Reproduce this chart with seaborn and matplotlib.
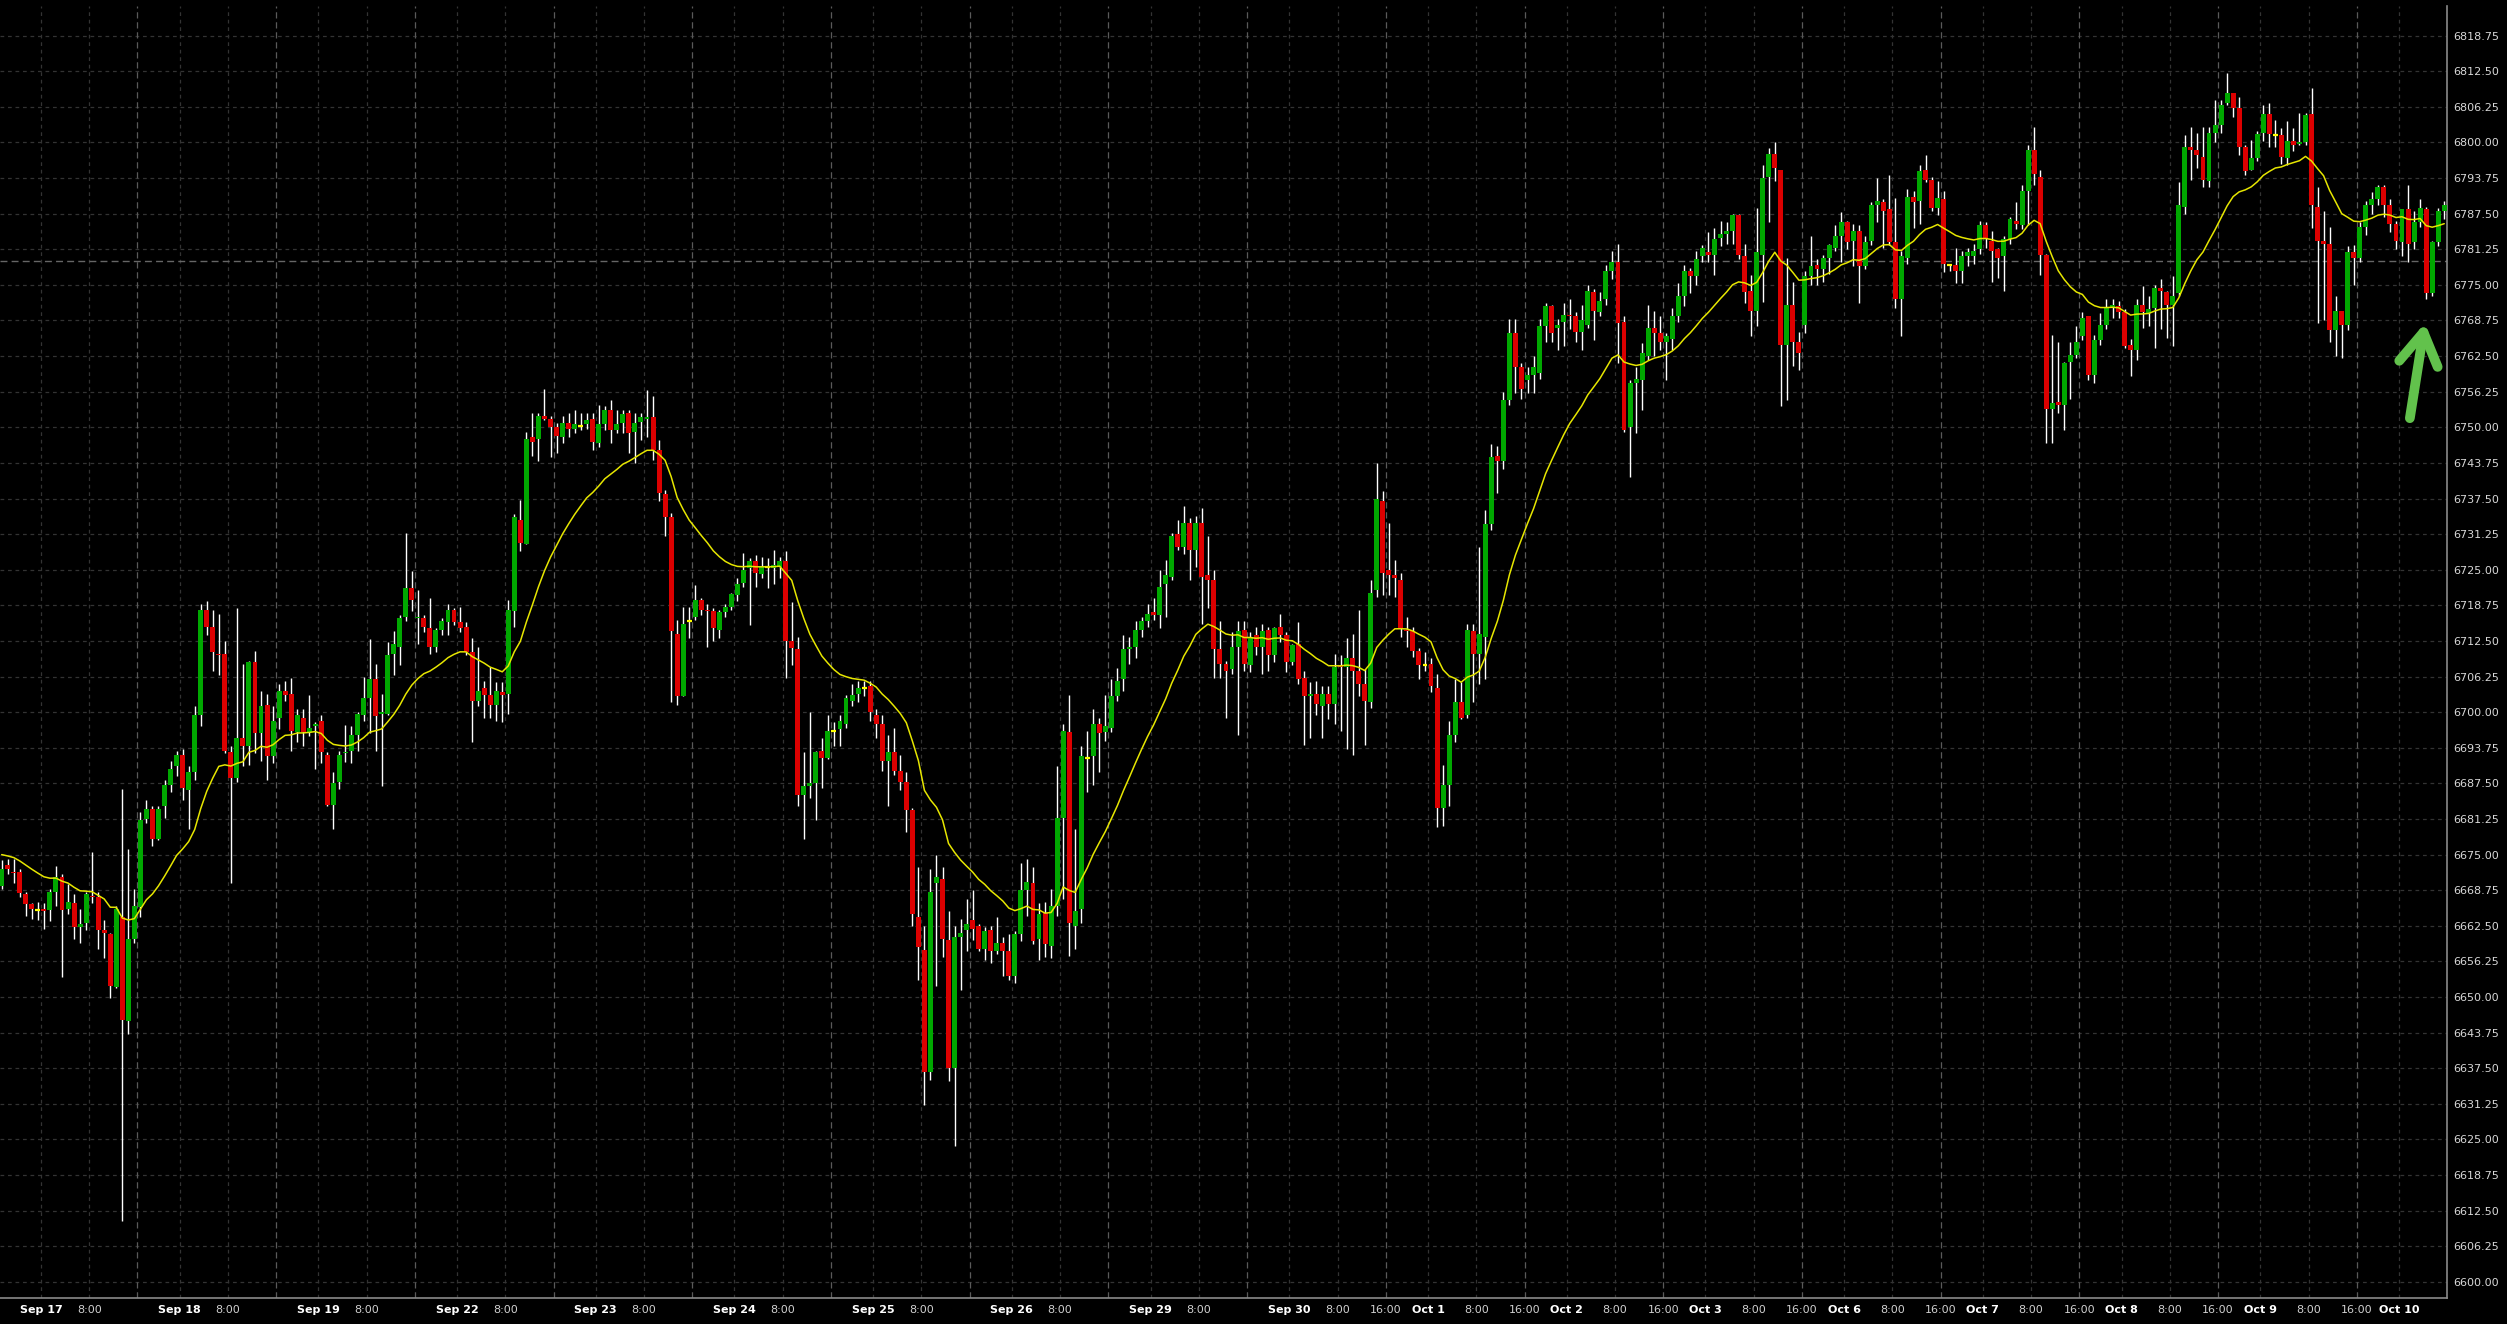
import numpy as np
import pandas as pd
import matplotlib
matplotlib.use("Agg")
import matplotlib.pyplot as plt
from matplotlib.patches import FancyArrowPatch, ArrowStyle
import seaborn as sns

# Hourly candles, Sep 17 - Oct 10
opens = [
    6669.5, 6673.25, 6672.0, 6672.0, 6668.0, 6666.25, 6665.25, 6665.5, 6665.25, 6668.5,
    6671.0, 6665.5, 6666.5, 6662.25, 6663.0, 6667.75, 6667.5, 6661.75, 6661.0, 6651.75,
    6664.0, 6645.75, 6660.25, 6665.75, 6681.25, 6683.0, 6677.75, 6683.5, 6687.25, 6690.5,
    6692.5, 6686.25, 6689.5, 6699.5, 6718.0, 6715.0, 6710.25, 6710.25, 6693.0, 6688.5,
    6695.5, 6694.0, 6708.75, 6696.25, 6701.25, 6692.25, 6699.0, 6703.75, 6703.25, 6696.5,
    6699.0, 6696.5, 6697.5, 6698.5, 6692.5, 6683.75, 6687.75, 6692.75, 6693.25, 6696.0,
    6699.5, 6702.5, 6705.75, 6699.75, 6699.75, 6710.25, 6711.5, 6716.75, 6721.75, 6716.5,
    6716.5, 6714.75, 6711.5, 6714.5, 6715.75, 6718.0, 6715.75, 6715.0, 6710.5, 6702.0,
    6704.25, 6703.0, 6701.25, 6703.5, 6703.25, 6717.75, 6733.75, 6729.5, 6748.25, 6748.0,
    6752.0, 6751.5, 6750.0, 6748.25, 6750.75, 6749.75, 6750.25, 6750.5, 6751.5, 6747.25,
    6750.5, 6753.0, 6749.5, 6750.75, 6752.5, 6749.25, 6751.0, 6751.5, 6751.75, 6746.0,
    6738.25, 6734.25, 6713.75, 6702.75, 6716.0, 6716.75, 6719.75, 6718.0, 6717.75, 6714.5,
    6717.5, 6718.5, 6720.5, 6722.75, 6725.25, 6726.5, 6724.25, 6725.5, 6725.25, 6725.5,
    6726.5, 6712.5, 6711.0, 6685.5, 6687.0, 6687.5, 6693.25, 6692.0, 6696.75, 6697.0,
    6698.0, 6702.0, 6703.25, 6704.25, 6704.5, 6699.5, 6698.0, 6691.5, 6693.0, 6689.75,
    6687.75, 6682.75, 6664.0, 6658.25, 6636.75, 6670.0, 6670.75, 6660.0, 6637.5, 6660.5,
    6661.75, 6663.5, 6662.5, 6658.5, 6661.75, 6658.0, 6659.5, 6658.0, 6653.75, 6661.0,
    6668.75, 6670.0, 6660.25, 6664.75, 6659.0, 6666.0, 6681.5, 6696.5, 6662.5, 6665.5,
    6692.0, 6692.25, 6698.0, 6696.5, 6697.25, 6702.75, 6705.75, 6711.0, 6711.5, 6714.5,
    6716.0, 6717.5, 6717.0, 6722.5, 6723.75, 6731.25, 6729.0, 6733.25, 6728.5, 6733.25,
    6724.0, 6723.25, 6711.0, 6708.5, 6707.5, 6711.5, 6714.5, 6708.25, 6713.5, 6711.5,
    6714.5, 6710.0, 6715.0, 6713.5, 6708.75, 6712.0, 6706.0, 6702.75, 6703.25, 6701.0,
    6703.25, 6701.5, 6708.25, 6708.0, 6709.5, 6707.25, 6705.0, 6701.75, 6721.5, 6737.0,
    6725.0, 6724.0, 6723.25, 6714.5, 6714.25, 6710.75, 6708.25, 6708.5, 6704.25, 6683.25,
    6687.25, 6696.0, 6701.75, 6699.5, 6714.25, 6710.25, 6713.25, 6733.0, 6745.0, 6744.0,
    6754.75, 6766.5, 6760.5, 6758.25, 6759.25, 6759.5, 6767.75, 6771.25, 6767.5, 6768.5,
    6769.75, 6769.5, 6766.75, 6768.0, 6773.75, 6770.25, 6772.5, 6777.5, 6779.0, 6768.5,
    6750.0, 6757.75, 6758.25, 6762.5, 6767.5, 6766.5, 6765.0, 6765.5, 6769.5, 6773.0,
    6777.5, 6776.5, 6780.0, 6780.75, 6780.25, 6783.25, 6784.0, 6784.5, 6787.25, 6780.0,
    6774.0, 6770.5, 6780.25, 6794.0, 6798.0, 6795.25, 6764.5, 6771.5, 6765.0, 6768.0,
    6776.5, 6778.5, 6777.75, 6779.75, 6781.5, 6783.5, 6786.0, 6782.75, 6784.5, 6778.25,
    6782.75, 6789.0, 6789.5, 6788.25, 6782.5, 6772.5, 6779.75, 6790.5, 6789.75, 6795.25,
    6793.5, 6788.5, 6790.0, 6778.5, 6778.5, 6777.5, 6780.0, 6780.0, 6781.25, 6785.5,
    6782.75, 6781.25, 6780.0, 6783.0, 6786.25, 6785.5, 6791.5, 6798.75, 6794.0, 6780.25,
    6753.25, 6754.5, 6754.0, 6761.5, 6762.75, 6766.0, 6769.5, 6759.25, 6765.25, 6768.0,
    6771.0, 6771.25, 6770.25, 6764.5, 6763.5, 6771.5, 6770.0, 6771.0, 6774.5, 6773.75,
    6771.5, 6773.5, 6788.75, 6799.25, 6798.75, 6797.5, 6793.25, 6801.75, 6803.0, 6807.0,
    6808.75, 6806.0, 6799.25, 6795.25, 6797.25, 6801.75, 6805.0, 6801.25, 6801.25, 6797.25,
    6800.25, 6799.75, 6800.0, 6805.0, 6788.75, 6782.75, 6782.25, 6767.0, 6770.5, 6768.0,
    6780.75, 6779.75, 6785.25, 6789.0, 6790.0, 6792.25, 6789.0, 6785.75, 6782.5, 6788.25,
    6782.5, 6786.0, 6788.25, 6773.5, 6782.5, 6788.0,
]
highs = [
    6674.0, 6674.25, 6674.25, 6672.5, 6668.5, 6666.5, 6666.75, 6666.5, 6669.0, 6673.0,
    6671.5, 6669.75, 6668.0, 6665.5, 6668.5, 6675.5, 6668.5, 6663.5, 6661.25, 6666.0,
    6686.5, 6676.0, 6669.0, 6682.5, 6684.5, 6683.5, 6683.5, 6688.0, 6691.5, 6693.25,
    6693.5, 6690.5, 6701.0, 6719.0, 6719.5, 6718.0, 6717.25, 6712.5, 6694.0, 6718.25,
    6708.5, 6709.0, 6710.75, 6703.75, 6703.25, 6701.0, 6705.0, 6705.5, 6706.0, 6700.5,
    6700.5, 6703.0, 6698.25, 6699.5, 6693.0, 6689.5, 6693.25, 6697.75, 6697.5, 6700.0,
    6706.25, 6712.75, 6708.5, 6703.25, 6712.25, 6714.25, 6717.0, 6731.5, 6724.75, 6721.5,
    6717.0, 6720.0, 6714.75, 6716.5, 6719.0, 6718.25, 6718.5, 6715.75, 6713.0, 6711.5,
    6705.5, 6708.0, 6705.25, 6705.25, 6719.75, 6734.75, 6737.25, 6749.25, 6752.5, 6752.5,
    6756.75, 6752.0, 6750.75, 6752.0, 6752.5, 6753.0, 6752.5, 6752.5, 6752.5, 6754.0,
    6753.75, 6754.75, 6753.0, 6753.0, 6753.0, 6752.5, 6752.5, 6756.5, 6755.5, 6747.75,
    6739.0, 6735.0, 6716.25, 6718.5, 6718.5, 6722.25, 6720.0, 6719.0, 6718.25, 6718.0,
    6719.0, 6721.0, 6723.5, 6728.0, 6727.0, 6727.5, 6727.25, 6727.0, 6728.5, 6727.25,
    6728.25, 6719.25, 6713.25, 6693.0, 6700.0, 6693.25, 6695.5, 6699.5, 6698.25, 6699.5,
    6703.0, 6705.0, 6705.5, 6705.5, 6705.5, 6700.5, 6699.5, 6696.0, 6697.25, 6692.5,
    6689.5, 6683.25, 6672.75, 6662.5, 6672.5, 6675.0, 6672.75, 6665.0, 6662.5, 6663.75,
    6667.25, 6668.75, 6662.75, 6662.25, 6662.5, 6664.0, 6660.5, 6661.0, 6661.5, 6673.5,
    6674.25, 6672.75, 6666.5, 6666.75, 6669.0, 6690.5, 6698.0, 6703.0, 6679.5, 6694.0,
    6696.75, 6700.5, 6699.0, 6703.0, 6705.75, 6707.75, 6713.5, 6713.25, 6716.0, 6716.75,
    6719.0, 6720.0, 6725.0, 6726.75, 6731.5, 6733.75, 6736.25, 6734.0, 6734.5, 6735.75,
    6731.0, 6725.0, 6716.0, 6709.0, 6714.0, 6716.0, 6716.0, 6714.0, 6715.0, 6715.5,
    6715.0, 6715.0, 6717.25, 6714.0, 6712.0, 6715.75, 6707.25, 6705.25, 6705.5, 6704.5,
    6704.5, 6710.25, 6710.0, 6713.0, 6713.75, 6718.0, 6707.5, 6723.25, 6743.75, 6738.75,
    6733.25, 6726.75, 6724.5, 6716.75, 6715.0, 6711.25, 6710.5, 6709.5, 6706.75, 6690.75,
    6698.5, 6705.75, 6705.25, 6715.5, 6715.5, 6729.0, 6735.5, 6747.0, 6746.75, 6756.25,
    6769.0, 6769.0, 6761.25, 6760.5, 6762.5, 6769.0, 6771.75, 6771.5, 6769.0, 6771.75,
    6772.5, 6770.25, 6771.5, 6775.0, 6774.25, 6773.75, 6778.5, 6781.0, 6782.25, 6769.5,
    6758.25, 6760.5, 6764.75, 6771.5, 6770.5, 6769.5, 6766.5, 6771.0, 6775.25, 6778.5,
    6778.0, 6781.0, 6782.0, 6784.25, 6785.0, 6786.25, 6786.0, 6787.5, 6787.5, 6782.25,
    6776.75, 6788.5, 6796.0, 6799.0, 6800.0, 6795.25, 6779.75, 6775.5, 6766.75, 6777.5,
    6783.5, 6779.5, 6780.25, 6782.25, 6785.5, 6787.75, 6786.25, 6785.75, 6785.5, 6783.5,
    6789.5, 6793.75, 6790.0, 6794.25, 6790.25, 6781.0, 6791.75, 6791.5, 6796.0, 6797.75,
    6794.0, 6793.25, 6791.5, 6778.75, 6781.5, 6781.0, 6781.5, 6782.25, 6786.25, 6786.0,
    6784.5, 6781.5, 6783.5, 6787.0, 6789.5, 6792.5, 6799.5, 6802.75, 6795.25, 6780.5,
    6766.25, 6765.0, 6761.5, 6765.0, 6767.75, 6770.25, 6769.5, 6766.25, 6770.0, 6772.5,
    6772.5, 6772.25, 6770.75, 6765.5, 6772.5, 6774.75, 6773.0, 6775.0, 6776.0, 6774.0,
    6776.5, 6793.0, 6801.25, 6802.75, 6801.75, 6802.75, 6802.75, 6807.5, 6807.5, 6812.25,
    6808.75, 6808.0, 6799.5, 6800.5, 6802.0, 6806.5, 6807.0, 6804.0, 6802.5, 6803.75,
    6802.5, 6805.25, 6805.25, 6809.5, 6792.25, 6788.0, 6785.25, 6773.0, 6770.5, 6781.75,
    6782.0, 6786.0, 6789.75, 6791.25, 6792.5, 6792.5, 6790.0, 6786.25, 6788.25, 6792.5,
    6788.0, 6790.0, 6788.75, 6782.75, 6788.5, 6789.75,
]
lows = [
    6669.0, 6671.5, 6670.0, 6667.5, 6664.25, 6663.75, 6663.5, 6662.0, 6663.25, 6666.0,
    6653.5, 6664.5, 6660.25, 6659.5, 6661.75, 6666.5, 6658.5, 6656.75, 6649.75, 6651.5,
    6610.75, 6643.5, 6659.5, 6664.0, 6680.5, 6676.5, 6677.5, 6681.5, 6686.0, 6688.75,
    6684.5, 6679.5, 6688.0, 6697.5, 6713.5, 6707.25, 6706.5, 6692.75, 6670.0, 6687.75,
    6690.5, 6690.75, 6692.75, 6691.5, 6688.0, 6691.0, 6697.0, 6702.0, 6693.25, 6694.75,
    6694.0, 6695.75, 6690.0, 6691.0, 6683.5, 6679.5, 6686.5, 6691.25, 6691.0, 6693.25,
    6698.5, 6696.25, 6693.25, 6687.0, 6699.5, 6706.5, 6708.25, 6716.0, 6717.75, 6712.0,
    6714.0, 6710.25, 6710.5, 6713.5, 6713.5, 6715.25, 6714.0, 6710.0, 6694.75, 6701.0,
    6699.0, 6699.0, 6698.5, 6698.25, 6699.75, 6715.0, 6728.25, 6729.5, 6745.0, 6744.0,
    6751.25, 6744.75, 6745.5, 6747.25, 6748.25, 6749.0, 6749.5, 6749.75, 6746.0, 6746.5,
    6749.5, 6747.25, 6749.0, 6749.0, 6745.5, 6743.75, 6747.75, 6748.25, 6744.25, 6737.0,
    6731.0, 6701.75, 6701.25, 6702.75, 6713.0, 6716.25, 6717.0, 6711.5, 6712.5, 6713.0,
    6716.75, 6718.0, 6719.5, 6722.0, 6715.25, 6722.0, 6723.5, 6721.75, 6722.5, 6723.5,
    6706.0, 6708.25, 6683.5, 6677.75, 6685.0, 6681.0, 6686.75, 6691.75, 6694.0, 6694.0,
    6697.25, 6701.0, 6701.75, 6702.75, 6698.5, 6695.5, 6689.75, 6683.5, 6689.0, 6686.25,
    6679.0, 6662.5, 6653.0, 6631.0, 6635.5, 6652.0, 6657.0, 6635.25, 6623.75, 6651.25,
    6658.0, 6660.0, 6658.0, 6656.5, 6656.0, 6657.5, 6653.75, 6653.0, 6652.5, 6659.75,
    6664.25, 6659.25, 6656.5, 6657.0, 6656.75, 6664.25, 6667.25, 6657.25, 6658.5, 6663.0,
    6686.0, 6687.25, 6689.5, 6695.0, 6696.5, 6702.0, 6703.75, 6708.5, 6709.5, 6713.25,
    6715.0, 6716.25, 6714.75, 6716.75, 6723.25, 6728.5, 6727.75, 6723.25, 6725.5, 6715.5,
    6718.25, 6706.0, 6706.0, 6699.0, 6706.75, 6696.0, 6707.25, 6707.0, 6710.0, 6706.75,
    6707.25, 6708.75, 6712.25, 6707.0, 6708.25, 6705.0, 6694.25, 6695.5, 6699.5, 6695.5,
    6698.75, 6698.0, 6696.75, 6693.5, 6692.5, 6702.75, 6694.25, 6700.75, 6720.25, 6720.5,
    6720.5, 6720.25, 6713.25, 6711.5, 6709.75, 6705.75, 6707.25, 6703.5, 6679.75, 6680.0,
    6683.5, 6694.75, 6698.75, 6699.0, 6701.75, 6705.0, 6705.75, 6732.0, 6738.5, 6742.75,
    6754.0, 6756.0, 6755.0, 6756.0, 6756.0, 6758.5, 6765.0, 6765.0, 6763.5, 6764.25,
    6767.25, 6765.0, 6763.5, 6767.5, 6765.25, 6769.5, 6771.5, 6776.0, 6761.25, 6749.25,
    6741.25, 6749.0, 6753.0, 6761.75, 6762.5, 6763.5, 6758.25, 6763.5, 6768.5, 6771.25,
    6773.5, 6775.0, 6779.0, 6779.0, 6776.75, 6781.75, 6782.25, 6782.25, 6779.5, 6771.75,
    6766.0, 6767.75, 6772.0, 6786.0, 6793.25, 6753.75, 6754.75, 6760.75, 6760.0, 6766.5,
    6775.0, 6775.0, 6775.5, 6777.0, 6781.0, 6779.0, 6781.25, 6778.25, 6771.75, 6777.75,
    6782.0, 6786.0, 6781.5, 6782.0, 6771.0, 6766.0, 6778.75, 6785.0, 6785.75, 6793.0,
    6788.0, 6787.25, 6777.25, 6777.5, 6775.25, 6775.25, 6778.25, 6778.75, 6780.5, 6781.5,
    6775.5, 6776.25, 6774.0, 6782.25, 6784.75, 6784.75, 6785.5, 6792.5, 6776.75, 6747.25,
    6747.25, 6752.5, 6749.5, 6755.0, 6762.25, 6765.25, 6758.25, 6757.75, 6764.5, 6767.25,
    6769.25, 6769.25, 6764.0, 6759.0, 6761.75, 6767.5, 6767.75, 6764.0, 6767.25, 6765.75,
    6764.25, 6773.0, 6787.5, 6793.5, 6795.5, 6792.25, 6792.25, 6800.0, 6801.75, 6806.5,
    6804.5, 6797.75, 6794.25, 6795.25, 6796.75, 6800.25, 6799.25, 6799.25, 6796.25, 6796.0,
    6798.5, 6799.5, 6799.5, 6785.0, 6768.25, 6768.75, 6765.0, 6762.5, 6762.25, 6767.0,
    6775.0, 6779.0, 6783.75, 6787.5, 6789.0, 6787.0, 6784.25, 6781.25, 6780.0, 6779.0,
    6781.25, 6785.25, 6772.5, 6773.0, 6781.75, 6786.5,
]
closes = [
    6672.5, 6672.5, 6671.75, 6668.25, 6666.25, 6665.5, 6665.25, 6665.0, 6668.5, 6671.0,
    6665.25, 6666.75, 6662.25, 6662.75, 6668.0, 6667.5, 6661.75, 6661.25, 6652.0, 6665.5,
    6646.0, 6660.25, 6666.0, 6681.0, 6683.0, 6677.75, 6683.0, 6687.25, 6690.0, 6692.5,
    6686.75, 6689.5, 6699.5, 6718.0, 6715.0, 6710.5, 6710.0, 6693.25, 6688.5, 6695.5,
    6694.0, 6708.75, 6696.25, 6701.0, 6692.25, 6698.5, 6703.75, 6703.0, 6696.75, 6699.5,
    6696.5, 6697.25, 6698.0, 6693.0, 6683.75, 6687.5, 6692.5, 6693.0, 6696.0, 6699.75,
    6702.5, 6705.75, 6699.25, 6700.0, 6710.0, 6712.0, 6716.5, 6721.75, 6719.75, 6716.75,
    6715.0, 6711.5, 6714.5, 6716.0, 6718.0, 6715.75, 6714.75, 6710.5, 6702.0, 6703.75,
    6703.0, 6701.25, 6703.75, 6703.0, 6718.0, 6734.25, 6729.75, 6748.0, 6747.5, 6752.0,
    6751.5, 6750.0, 6748.5, 6750.75, 6749.75, 6750.5, 6750.25, 6751.25, 6747.5, 6750.5,
    6753.0, 6749.5, 6750.5, 6752.25, 6749.0, 6750.75, 6751.75, 6751.75, 6746.0, 6738.5,
    6734.25, 6714.25, 6702.75, 6715.5, 6716.0, 6719.75, 6718.0, 6717.75, 6714.75, 6717.5,
    6718.5, 6720.75, 6722.5, 6725.0, 6726.5, 6724.5, 6725.5, 6725.5, 6725.75, 6726.5,
    6712.5, 6711.25, 6685.5, 6687.0, 6687.5, 6693.0, 6692.0, 6696.75, 6696.75, 6698.5,
    6702.5, 6703.0, 6704.25, 6704.25, 6700.0, 6698.0, 6691.5, 6693.0, 6689.75, 6687.75,
    6682.75, 6664.5, 6658.75, 6636.75, 6668.5, 6671.0, 6660.25, 6637.5, 6660.5, 6661.25,
    6662.75, 6662.0, 6658.5, 6661.5, 6658.0, 6659.5, 6658.0, 6653.75, 6661.0, 6668.75,
    6670.25, 6659.75, 6664.5, 6659.25, 6666.0, 6681.5, 6696.75, 6663.0, 6665.0, 6692.25,
    6692.0, 6698.0, 6696.25, 6697.5, 6702.75, 6705.5, 6711.0, 6711.5, 6714.5, 6716.0,
    6717.25, 6717.0, 6722.0, 6724.0, 6731.0, 6729.0, 6733.25, 6728.5, 6733.25, 6723.75,
    6723.25, 6711.0, 6708.5, 6707.25, 6711.5, 6714.25, 6708.5, 6713.25, 6711.5, 6714.25,
    6710.0, 6714.75, 6713.5, 6708.75, 6711.75, 6705.75, 6702.75, 6703.25, 6701.5, 6703.25,
    6701.5, 6708.0, 6708.0, 6709.5, 6707.25, 6705.0, 6702.0, 6721.0, 6737.5, 6724.5,
    6724.0, 6723.5, 6714.75, 6714.25, 6710.75, 6708.25, 6708.25, 6704.5, 6683.25, 6687.25,
    6696.0, 6701.75, 6699.0, 6714.5, 6710.25, 6713.75, 6733.0, 6744.75, 6744.0, 6754.75,
    6766.5, 6760.5, 6756.75, 6759.25, 6760.5, 6767.75, 6771.25, 6766.5, 6768.0, 6769.75,
    6769.5, 6766.75, 6768.75, 6774.0, 6770.5, 6772.25, 6777.5, 6779.0, 6768.25, 6749.5,
    6757.75, 6758.5, 6763.0, 6767.5, 6766.5, 6765.0, 6766.0, 6769.5, 6773.0, 6777.5,
    6776.5, 6779.5, 6781.5, 6780.25, 6783.0, 6784.0, 6784.5, 6787.25, 6780.25, 6773.75,
    6770.5, 6780.75, 6793.75, 6798.0, 6795.5, 6764.5, 6771.5, 6765.0, 6763.0, 6776.5,
    6778.25, 6777.75, 6779.75, 6782.0, 6783.5, 6786.0, 6782.5, 6784.5, 6778.25, 6782.5,
    6789.0, 6789.75, 6788.0, 6782.5, 6772.5, 6780.0, 6790.5, 6789.5, 6795.0, 6793.5,
    6788.5, 6790.25, 6778.75, 6778.5, 6777.5, 6780.0, 6780.75, 6781.0, 6785.5, 6783.25,
    6781.0, 6779.75, 6783.0, 6786.5, 6785.75, 6791.5, 6798.75, 6794.5, 6780.25, 6753.25,
    6754.25, 6754.0, 6761.25, 6762.75, 6765.0, 6769.25, 6759.25, 6765.25, 6768.0, 6771.0,
    6771.5, 6770.25, 6764.25, 6763.5, 6771.5, 6770.25, 6770.75, 6774.5, 6774.0, 6771.5,
    6773.0, 6789.0, 6799.25, 6798.75, 6797.75, 6793.5, 6801.75, 6803.0, 6806.5, 6808.75,
    6806.0, 6799.25, 6795.0, 6797.25, 6801.5, 6805.0, 6801.5, 6801.25, 6797.5, 6800.25,
    6799.5, 6800.0, 6804.75, 6789.0, 6782.75, 6782.25, 6767.0, 6770.5, 6768.0, 6780.75,
    6779.75, 6785.25, 6789.0, 6790.0, 6792.25, 6789.0, 6785.75, 6782.75, 6788.25, 6782.25,
    6786.0, 6788.5, 6773.5, 6782.5, 6788.0, 6789.0,
]

# moving average level just before the first visible candle
ema_seed = 6675.25
# dashed reference level across the chart
ref_level = 6779.25

# session days on the time axis
day_labels = ["Sep 17", "Sep 18", "Sep 19", "Sep 22", "Sep 23", "Sep 24", "Sep 25",
              "Sep 26", "Sep 29", "Sep 30", "Oct 1", "Oct 2", "Oct 3", "Oct 6",
              "Oct 7", "Oct 8", "Oct 9", "Oct 10"]
first_midnight = 6.5   # candle position of Sep 17 0:00
bars_per_day = 23

sns.set_style("dark", {"axes.facecolor": "#000000", "figure.facecolor": "#000000"})
plt.rcParams['font.family'] = ['DejaVu Sans']

o = np.array(opens)
h = np.array(highs)
l = np.array(lows)
c = np.array(closes)
idx = np.arange(len(c))

ema = pd.Series([ema_seed] + closes).ewm(span=20, adjust=False).mean().iloc[1:].to_numpy()

fig = plt.figure(figsize=(25.07, 13.24), dpi=100)
fig.patch.set_facecolor("#000000")
ax = fig.add_axes([0, 26 / 1324, 2447 / 2507, 1292 / 1324])
ax.set_facecolor("#000000")

# grid
yticks = np.arange(6600, 6818.76, 6.25)
for v in yticks:
    ax.axhline(v, color="#333333", lw=0.9, ls=(0, (3, 3)), zorder=0)

tick_pos, tick_txt = [], []
for d, name in enumerate(day_labels):
    base = first_midnight + bars_per_day * d
    ax.axvline(base, color="#333333", lw=0.9, ls=(0, (3, 3)), zorder=0)
    ax.axvline(base + 8, color="#333333", lw=0.9, ls=(0, (3, 3)), zorder=0)
    ax.axvline(base + 16, color="#5a5a5a", lw=0.9, ls=(0, (5, 3)), zorder=0)
    tick_pos.append(base)
    tick_txt.append(name)
    if d < len(day_labels) - 1:
        tick_pos.append(base + 8)
        tick_txt.append("8:00")
        if d >= 9:
            tick_pos.append(base + 16)
            tick_txt.append("16:00")

ax.axhline(ref_level, color="#666666", lw=1.0, ls=(0, (5, 3)), zorder=1)

# candles
ax.vlines(idx, l, h, color="#ffffff", lw=1.0, zorder=2)
up = c > o
down = c < o
flat = c == o
ax.bar(idx[up], (c - o)[up], bottom=o[up], width=0.82, color="#00a800", linewidth=0, zorder=3)
ax.bar(idx[down], (c - o)[down], bottom=o[down], width=0.82, color="#dc0000", linewidth=0, zorder=3)
ax.hlines(c[flat], idx[flat] - 0.41, idx[flat] + 0.41, color="#ffff00", lw=1.6, zorder=3)

# 20-period EMA
sns.lineplot(x=idx, y=ema, ax=ax, color="#e6e600", linewidth=1.1, estimator=None,
             legend=False, zorder=4)

# green arrow pointing at the last dip
arrow = FancyArrowPatch((399.3, 6751.6), (401.8, 6768.3),
                        arrowstyle=ArrowStyle("->", head_length=1.15, head_width=0.7),
                        mutation_scale=20, lw=7, color="#62c24c",
                        capstyle="round", joinstyle="round",
                        shrinkA=0, shrinkB=0, zorder=6)
ax.add_patch(arrow)

ax.set_xlim(-0.28, 405.46)
ax.set_ylim(6597.15, 6823.96)
ax.set_xlabel("")
ax.set_ylabel("")

ax.yaxis.tick_right()
ax.set_yticks(yticks)
ax.set_yticklabels([f"{v:.2f}" for v in yticks])
ax.tick_params(axis="y", length=0, pad=4.5, labelsize=8, colors="#d8d8d8")

ax.set_xticks(tick_pos)
ax.set_xticklabels(tick_txt)
ax.tick_params(axis="x", length=0, pad=5, labelsize=8)
for lab in ax.get_xticklabels():
    if ":" in lab.get_text():
        lab.set_color("#d0d0d0")
    else:
        lab.set_color("#ffffff")
        lab.set_fontweight("bold")

for s in ["top", "left"]:
    ax.spines[s].set_visible(False)
for s in ["right", "bottom"]:
    ax.spines[s].set_visible(True)
    ax.spines[s].set_color("#8a8a8a")
    ax.spines[s].set_linewidth(1.2)

fig.savefig("out.png", dpi=100, facecolor="#000000")
